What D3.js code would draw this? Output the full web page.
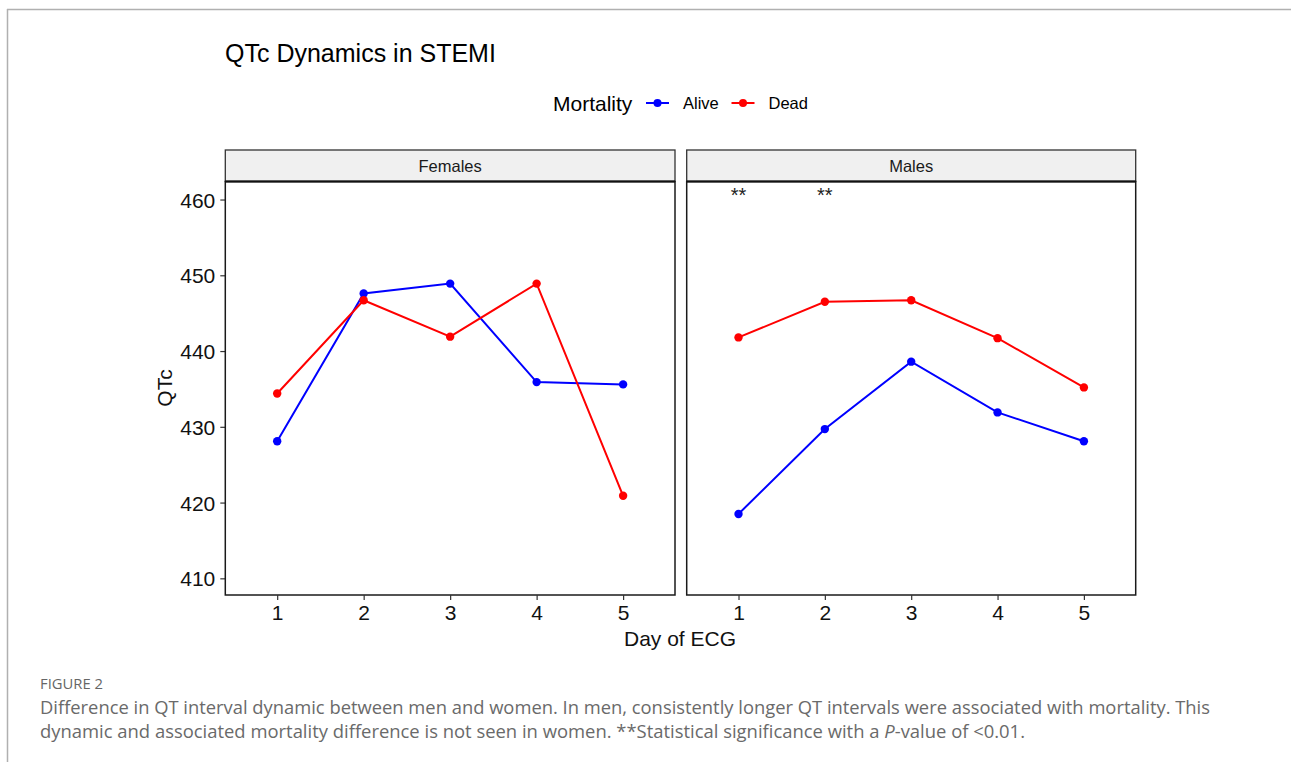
<!DOCTYPE html>
<html>
<head>
<meta charset="utf-8">
<script src="https://cdn.jsdelivr.net/npm/d3@7"></script>
<style>
  html, body { margin: 0; padding: 0; background: #fff; }
  svg { display: block; }
</style>
</head>
<body>
<svg id="chart" width="1291" height="762"></svg>
<script>
// Days on the x axis and panel names
const days = [1, 2, 3, 4, 5];
const panels = ["Females", "Males"];
const groups = ["Alive", "Dead"];
const yTicks = [410, 420, 430, 440, 450, 460];

// Mean QTc per day, by sex and outcome
const femalesAlive = [428.1, 447.6, 448.9, 435.9, 435.6];
const femalesDead  = [434.4, 446.7, 441.9, 448.9, 420.9];
const malesAlive   = [418.5, 429.7, 438.6, 431.9, 428.1];
const malesDead    = [441.8, 446.5, 446.7, 441.7, 435.2];

// Days with a significant difference (males), marked at the top
const sigDays = [1, 2];
const sigLabel = "**";
const sigLevel = 460;

const seriesByPanel = {
  Females: { Alive: femalesAlive, Dead: femalesDead },
  Males:   { Alive: malesAlive,   Dead: malesDead }
};
const colors = { Alive: "#0000ff", Dead: "#ff0000" };

const svg = d3.select("#chart");
const font = "'Liberation Sans', Arial, sans-serif";

// Page frame lines
svg.append("line").attr("x1", 7.5).attr("x2", 7.5).attr("y1", 9).attr("y2", 762)
  .attr("stroke", "#b0b0b0").attr("stroke-width", 1.5);
svg.append("line").attr("x1", 7).attr("x2", 1291).attr("y1", 9.5).attr("y2", 9.5)
  .attr("stroke", "#b0b0b0").attr("stroke-width", 1.5);

// Title
svg.append("text").attr("x", 225).attr("y", 62)
  .attr("font-family", font).attr("font-size", 25).attr("fill", "#000")
  .text("QTc Dynamics in STEMI");

// Legend
const legend = svg.append("g").attr("font-family", font);
legend.append("text").attr("x", 553).attr("y", 110.5)
  .attr("font-size", 21).text("Mortality");
const legendItems = [{ g: "Alive", x: 646 }, { g: "Dead", x: 731.5 }];
legendItems.forEach(d => {
  legend.append("line").attr("x1", d.x).attr("x2", d.x + 23).attr("y1", 103).attr("y2", 103)
    .attr("stroke", colors[d.g]).attr("stroke-width", 2);
  legend.append("circle").attr("cx", d.x + 11.5).attr("cy", 103).attr("r", 4)
    .attr("fill", colors[d.g]);
  legend.append("text").attr("x", d.x + 37).attr("y", 109)
    .attr("font-size", 16.5).text(d.g);
});

// Facet layout
const panelX = { Females: [225.3, 675], Males: [686.7, 1135.7] };
const stripTop = 150, stripBottom = 181.5, plotBottom = 595;

const y = d3.scaleLinear().domain([407.8, 462.38]).range([plotBottom, stripBottom]);

// Y axis (left panel only)
const yAxis = d3.axisLeft(y).tickValues(yTicks).tickSize(5).tickPadding(5);
const yg = svg.append("g").attr("transform", `translate(${panelX.Females[0]},0)`).call(yAxis);
yg.select(".domain").remove();
yg.selectAll(".tick line").attr("stroke", "#333").attr("stroke-width", 1.2);
yg.selectAll(".tick text").attr("font-family", font).attr("font-size", 21)
  .attr("fill", "#111").attr("dy", "0.36em");

panels.forEach(p => {
  const [x0, x1] = panelX[p];
  const x = d3.scaleLinear().domain([0.4, 5.6]).range([x0, x1]);

  // Strip
  svg.append("rect").attr("x", x0).attr("y", stripTop).attr("width", x1 - x0)
    .attr("height", stripBottom - stripTop)
    .attr("fill", "#f0f0f0").attr("stroke", "#333").attr("stroke-width", 1.3);
  svg.append("text").attr("x", (x0 + x1) / 2).attr("y", (stripTop + stripBottom) / 2 + 6)
    .attr("text-anchor", "middle").attr("font-family", font).attr("font-size", 16.5)
    .attr("fill", "#1a1a1a").text(p);

  // Panel border
  svg.append("rect").attr("x", x0).attr("y", stripBottom).attr("width", x1 - x0)
    .attr("height", plotBottom - stripBottom)
    .attr("fill", "none").attr("stroke", "#1a1a1a").attr("stroke-width", 1.5);
  svg.append("line").attr("x1", x0).attr("x2", x1).attr("y1", stripBottom).attr("y2", stripBottom)
    .attr("stroke", "#111").attr("stroke-width", 2.2);

  // X axis
  const xAxis = d3.axisBottom(x).tickValues(days).tickFormat(d3.format("d"))
    .tickSize(5).tickPadding(5);
  const xg = svg.append("g").attr("transform", `translate(0,${plotBottom})`).call(xAxis);
  xg.select(".domain").remove();
  xg.selectAll(".tick line").attr("stroke", "#333").attr("stroke-width", 1.2);
  xg.selectAll(".tick text").attr("font-family", font).attr("font-size", 21).attr("fill", "#111");

  // Series
  const line = d3.line().x((d, i) => x(days[i])).y(d => y(d));
  groups.forEach(g => {
    const vals = seriesByPanel[p][g];
    svg.append("path").datum(vals).attr("d", line)
      .attr("fill", "none").attr("stroke", colors[g]).attr("stroke-width", 2);
    svg.append("g").selectAll("circle").data(vals).join("circle")
      .attr("cx", (d, i) => x(days[i])).attr("cy", d => y(d)).attr("r", 4.2)
      .attr("fill", colors[g]);
  });

  // Significance markers
  if (p === "Males") {
    svg.append("g").selectAll("text").data(sigDays).join("text")
      .attr("x", d => x(d)).attr("y", y(sigLevel) + 2)
      .attr("text-anchor", "middle").attr("font-family", font).attr("font-size", 20)
      .attr("fill", "#222").text(sigLabel);
  }
});

// Axis titles
svg.append("text").attr("x", 680).attr("y", 646).attr("text-anchor", "middle")
  .attr("font-family", font).attr("font-size", 21).attr("fill", "#111").text("Day of ECG");
svg.append("text").attr("transform", "translate(172,388) rotate(-90)")
  .attr("text-anchor", "middle").attr("font-family", font).attr("font-size", 21)
  .attr("fill", "#111").text("QTc");

// Figure caption
const capFont = "'Open Sans', 'Noto Sans', sans-serif";
svg.append("text").attr("x", 40).attr("y", 689).attr("font-family", capFont)
  .attr("font-size", 15).attr("fill", "#666").attr("textLength", 63)
  .attr("lengthAdjust", "spacingAndGlyphs").text("FIGURE 2");
const cap1 = "Difference in QT interval dynamic between men and women. In men, consistently longer QT intervals were associated with mortality. This";
svg.append("text").attr("x", 40).attr("y", 714).attr("font-family", capFont)
  .attr("font-size", 17.5).attr("fill", "#6a6a6a").attr("textLength", 1170)
  .attr("lengthAdjust", "spacingAndGlyphs").text(cap1);
const cap2 = svg.append("text").attr("x", 40).attr("y", 738).attr("font-family", capFont)
  .attr("font-size", 17.5).attr("fill", "#6a6a6a").attr("textLength", 985)
  .attr("lengthAdjust", "spacingAndGlyphs");
cap2.append("tspan").text("dynamic and associated mortality difference is not seen in women. **Statistical significance with a ");
cap2.append("tspan").attr("font-style", "italic").text("P");
cap2.append("tspan").text("-value of <0.01.");
</script>
</body>
</html>
